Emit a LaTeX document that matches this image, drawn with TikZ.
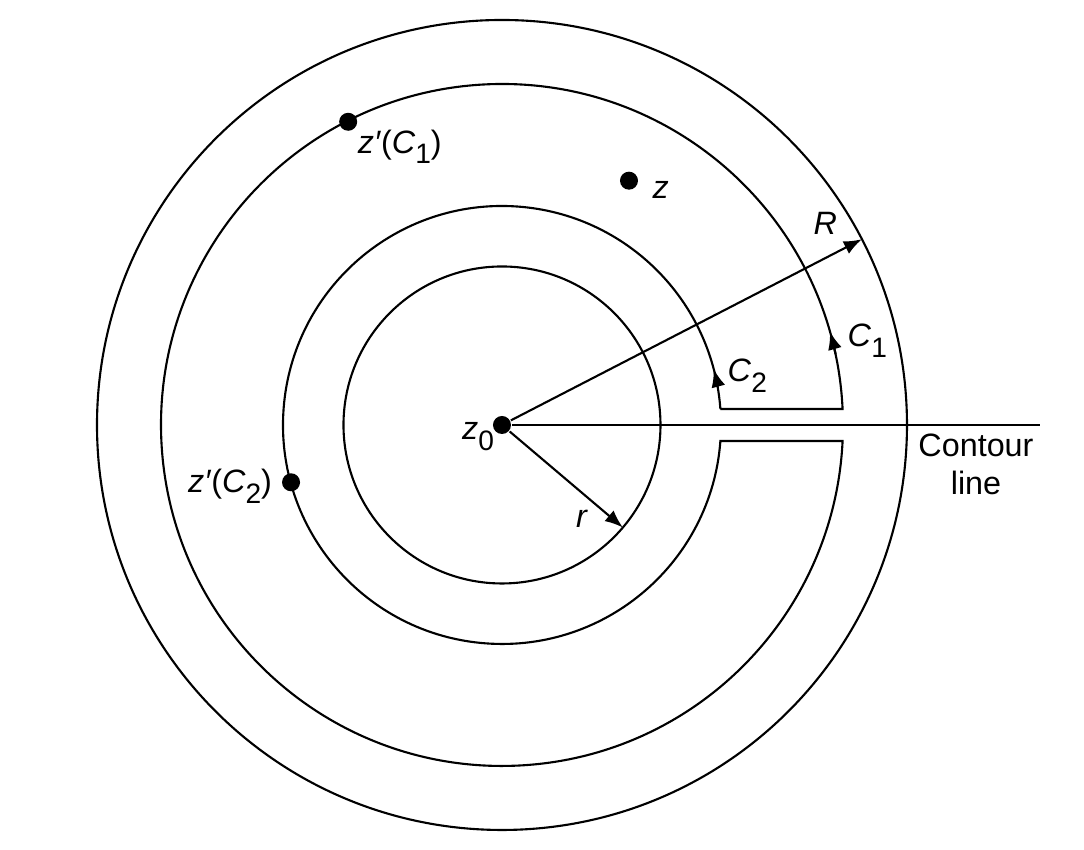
\documentclass[tikz,border=0pt]{standalone}
\usepackage{fontspec}
\setmainfont{Liberation Sans}
\usetikzlibrary{arrows.meta}
\newcommand{\sbs}[1]{\raisebox{-3pt}{\fontsize{8}{9}\selectfont #1}}
\newcommand{\zpr}{\textit{z\char"2032}}

\begin{document}
\begin{tikzpicture}
        [x=1cm,y=1cm,line width=0.6pt,>={Latex[length=1.8mm,width=1.4mm]},
         every node/.style={font=\fontsize{9.2}{10.9}\selectfont,inner sep=0pt},
         dot/.style={circle,fill=black,minimum size=1.8mm}]
        \useasboundingbox (-5.02,-4.25) rectangle (5.82,4.25);
        \draw (0,0) circle (4.05);
        \draw (0,0) circle (1.585);
        % keyhole contour C1 / C2
        \draw (2.184,0.16) -- (3.406,0.16) arc (2.69:357.31:3.41)
              -- (2.184,-0.16) arc (-4.19:-355.81:2.19) -- cycle;
        \draw[->] (12:3.41) arc (12:15.9:3.41);
        \draw[->] (10:2.19) arc (10:14.8:2.19);

        \node[dot] (z0) at (0,0) {};
        \node[dot] (z) at (1.27,2.443) {};
        \node[dot] (zc1) at (116.9:3.40) {};
        \node[dot] (zc2) at (195.2:2.186) {};
        \coordinate (Rend) at (27.3:4.05);
        \coordinate (rend) at (-40.3:1.585);
        \coordinate (cend) at (5.38,0);

        \draw (z0) -- (cend);
        \foreach \to in {Rend,rend}
        \draw[->] (z0) -- (\to);

        \node[anchor=base west,xshift=0.87mm,yshift=-3.13mm] (lzc1) at (zc1) {\zpr(\textit{C}\sbs{1})};
        \node[anchor=base east,xshift=-1.8mm,yshift=-1.07mm] (lzc2) at (zc2) {\zpr(\textit{C}\sbs{2})};
        \node[anchor=base east,xshift=-0.7mm,yshift=-1.5mm] (lz0) at (z0) {\textit{z}\sbs{0}};
        \node[anchor=base west,xshift=2.27mm,yshift=-1.83mm] (lz) at (z) {\textit{z}};
        \node[anchor=base west] (lR) at (3.107,1.90) {\textit{R}};
        \node[anchor=base west] (lr) at (0.73,-1.03) {\textit{r}};
        \node[anchor=base west] (lC1) at (3.447,0.783) {\textit{C}\sbs{1}};
        \node[anchor=base west] (lC2) at (2.247,0.433) {\textit{C}\sbs{2}};
        \node[anchor=north,align=center] (lcont) at (4.74,-0.08) {Contour\\line};
\end{tikzpicture}
\end{document}
